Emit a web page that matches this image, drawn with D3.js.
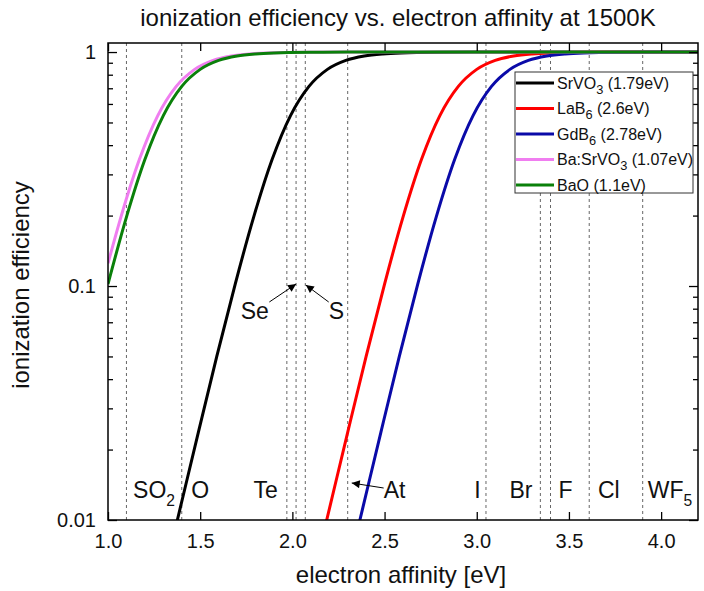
<!DOCTYPE html>
<html><head><meta charset="utf-8">
<script src="https://cdn.jsdelivr.net/npm/d3@7"></script>
<style>body{margin:0;background:#fff} text{font-family:"Liberation Sans",Arial,sans-serif;fill:#111}</style>
</head><body><svg id="c" width="704" height="591"></svg>
<script>
// ---- data ----
const xTicks = [1.0, 1.5, 2.0, 2.5, 3.0, 3.5, 4.0];
const xTickLabels = ["1.0", "1.5", "2.0", "2.5", "3.0", "3.5", "4.0"];
const yTicks = [0.01, 0.1, 1];
const yTickLabels = ["0.01", "0.1", "1"];
const elements = ["SO2", "O", "Te", "Se", "S", "At", "I", "Br", "F", "Cl", "WF5"];
const electronAffinity = [1.1, 1.4, 1.97, 2.02, 2.07, 2.3, 3.05, 3.345, 3.4, 3.61, 3.9];
const materials = ["SrVO3", "LaB6", "GdB6", "Ba:SrVO3", "BaO"];
const workFunction = ["1.79eV", "2.6eV", "2.78eV", "1.07eV", "1.1eV"];
const colors = ["#000000", "#ff0000", "#0a0aa8", "#f07ef0", "#0a800a"];
// curve samples: [electron affinity, efficiency]
const srvo3 = [[1.34,0.0076],[1.39,0.0111],[1.49,0.0237],[1.59,0.0500],[1.69,0.102],[1.79,0.197],[1.89,0.347],[1.99,0.535],[2.09,0.713],[2.19,0.843],[2.29,0.921],[2.39,0.962],[2.49,0.982],[2.59,0.9915],[2.79,0.998],[2.99,0.9996],[4.2,1.0]];
const lab6 = [[2.15,0.0076],[2.20,0.0111],[2.30,0.0237],[2.40,0.0500],[2.50,0.102],[2.60,0.197],[2.70,0.347],[2.80,0.535],[2.90,0.713],[3.00,0.843],[3.10,0.921],[3.20,0.962],[3.30,0.982],[3.40,0.9915],[3.60,0.998],[3.80,0.9996],[4.2,1.0]];
const gdb6 = [[2.33,0.0076],[2.38,0.0111],[2.48,0.0237],[2.58,0.0500],[2.68,0.102],[2.78,0.197],[2.88,0.347],[2.98,0.535],[3.08,0.713],[3.18,0.843],[3.28,0.921],[3.38,0.962],[3.48,0.982],[3.58,0.9915],[3.78,0.998],[3.98,0.9996],[4.2,1.0]];
const basrvo3 = [[1.0,0.125],[1.07,0.197],[1.17,0.347],[1.27,0.535],[1.37,0.713],[1.47,0.843],[1.57,0.921],[1.67,0.962],[1.77,0.982],[1.87,0.9915],[2.07,0.998],[2.27,0.9996],[4.2,1.0]];
const bao = [[1.0,0.102],[1.1,0.197],[1.2,0.347],[1.3,0.535],[1.4,0.713],[1.5,0.843],[1.6,0.921],[1.7,0.962],[1.8,0.982],[1.9,0.9915],[2.1,0.998],[2.3,0.9996],[4.2,1.0]];
const curves = [srvo3, lab6, gdb6, basrvo3, bao];

// ---- layout ----
const svg = d3.select("#c");
const L = 108, R = 698, T = 43, B = 520;
const x = d3.scaleLinear().domain([1.0, 4.2]).range([L, R]);
const y = d3.scaleLog().domain([0.01, 1.093]).range([B, T]);

const defs = svg.append("defs");
defs.append("clipPath").attr("id", "clip")
  .append("rect").attr("x", L).attr("y", T).attr("width", R - L).attr("height", B - T);
defs.append("marker").attr("id", "arr").attr("viewBox", "0 0 10 10").attr("refX", 10).attr("refY", 5)
  .attr("markerWidth", 10).attr("markerHeight", 8).attr("markerUnits", "userSpaceOnUse").attr("orient", "auto")
  .append("path").attr("d", "M0,0 L10,5 L0,10 z").attr("fill", "#000");

// dashed element lines
svg.append("g").selectAll("line").data(electronAffinity).join("line")
  .attr("x1", d => x(d)).attr("x2", d => x(d)).attr("y1", T).attr("y2", B)
  .attr("stroke", "#666").attr("stroke-width", 1).attr("stroke-dasharray", "3,3");

// curves
const line = d3.line().x(d => x(d[0])).y(d => y(d[1])).curve(d3.curveMonotoneX);
const order = [0, 1, 2, 3, 4];
svg.append("g").attr("clip-path", "url(#clip)").selectAll("path").data(order).join("path")
  .attr("d", i => line(curves[i])).attr("fill", "none").attr("stroke", i => colors[i])
  .attr("stroke-width", 3).attr("stroke-linejoin", "round");

// axes
const fs = 20;
function styleAxis(g) { g.select(".domain").remove(); g.selectAll("line").attr("stroke", "#000").attr("stroke-width", 1.3); }
svg.append("g").attr("transform", `translate(0,${B})`)
  .call(d3.axisBottom(x).tickValues(xTicks).tickFormat((d, i) => xTickLabels[i]).tickSize(-8).tickPadding(14))
  .call(styleAxis).call(g => g.selectAll("text").attr("font-size", fs).attr("fill", "#111").attr("font-family", "Liberation Sans, Arial, sans-serif"));
svg.append("g").attr("transform", `translate(0,${T})`)
  .call(d3.axisTop(x).tickValues(xTicks).tickFormat("").tickSize(-8)).call(styleAxis);
const minor = [];
[0.01, 0.1].forEach(b => { for (let k = 2; k <= 9; k++) minor.push(b * k); });
svg.append("g").attr("transform", `translate(${L},0)`)
  .call(d3.axisLeft(y).tickValues(yTicks).tickFormat((d, i) => yTickLabels[i]).tickSize(-9).tickPadding(12))
  .call(styleAxis).call(g => g.selectAll("text").attr("font-size", fs).attr("fill", "#111").attr("font-family", "Liberation Sans, Arial, sans-serif"));
svg.append("g").attr("transform", `translate(${L},0)`)
  .call(d3.axisLeft(y).tickValues(minor).tickFormat("").tickSize(-5)).call(styleAxis);
svg.append("g").attr("transform", `translate(${R},0)`)
  .call(d3.axisRight(y).tickValues(yTicks).tickFormat("").tickSize(-9)).call(styleAxis);
svg.append("g").attr("transform", `translate(${R},0)`)
  .call(d3.axisRight(y).tickValues(minor).tickFormat("").tickSize(-5)).call(styleAxis);

svg.append("rect").attr("x", L).attr("y", T).attr("width", R - L).attr("height", B - T)
  .attr("fill", "none").attr("stroke", "#000").attr("stroke-width", 1.5);

// subscript helper
function chem(sel, str, size, shift, ratio) {
  const parts = str.split(/(\d+)/);
  parts.forEach((p, i) => {
    if (!p) return;
    const t = sel.append("tspan").text(p);
    if (i % 2 === 1) t.attr("font-size", size * ratio).attr("dy", shift);
    else if (i > 0) t.attr("dy", -shift);
  });
}

// element labels
const lf = 23, ly = 498;
const labelPos = {SO2: [1.136, "start"], O: [1.50, "middle"], Te: [1.855, "middle"], At: [2.495, "start"], I: [3.004, "middle"], Br: [3.177, "start"], F: [3.443, "start"], Cl: [3.657, "start"], WF5: [3.928, "start"]};
Object.keys(labelPos).forEach(k => {
  const t = svg.append("text").attr("x", x(labelPos[k][0])).attr("y", ly).attr("font-size", lf).attr("text-anchor", labelPos[k][1]);
  chem(t, k, lf, 8, 0.68);
});
svg.append("text").attr("x", x(1.72)).attr("y", 319).attr("font-size", lf).text("Se");
svg.append("text").attr("x", x(2.197)).attr("y", 319).attr("font-size", lf).text("S");
const arrows = [[1.875, 302, 2.02, 284], [2.197, 302, 2.073, 285], [2.495, 488, 2.322, 483]];
svg.append("g").selectAll("line").data(arrows).join("line")
  .attr("x1", d => x(d[0])).attr("y1", d => d[1]).attr("x2", d => x(d[2])).attr("y2", d => d[3])
  .attr("stroke", "#000").attr("stroke-width", 1).attr("marker-end", "url(#arr)");

// legend
const lg = svg.append("g");
lg.append("rect").attr("x", 515).attr("y", 72).attr("width", 178).attr("height", 121)
  .attr("fill", "#fff").attr("stroke", "#333").attr("stroke-width", 1);
materials.forEach((m, i) => {
  const cy = 83 + i * 25.5;
  lg.append("line").attr("x1", 516).attr("x2", 554).attr("y1", cy).attr("y2", cy)
    .attr("stroke", colors[i]).attr("stroke-width", 3);
  const t = lg.append("text").attr("x", 557).attr("y", cy + 5.5).attr("font-size", 16);
  chem(t, m, 16, 5, 0.8);
  t.append("tspan").text(" (" + workFunction[i] + ")").attr("dy", /\d$/.test(m) ? -5 : 0);
});

// titles
svg.append("text").attr("x", 398).attr("y", 26).attr("text-anchor", "middle").attr("font-size", 24)
  .text("ionization efficiency vs. electron affinity at 1500K");
svg.append("text").attr("x", 401).attr("y", 583).attr("text-anchor", "middle").attr("font-size", 24)
  .text("electron affinity [eV]");
svg.append("text").attr("transform", "translate(29,285) rotate(-90)").attr("text-anchor", "middle").attr("font-size", 24)
  .text("ionization efficiency");
</script></body></html>
